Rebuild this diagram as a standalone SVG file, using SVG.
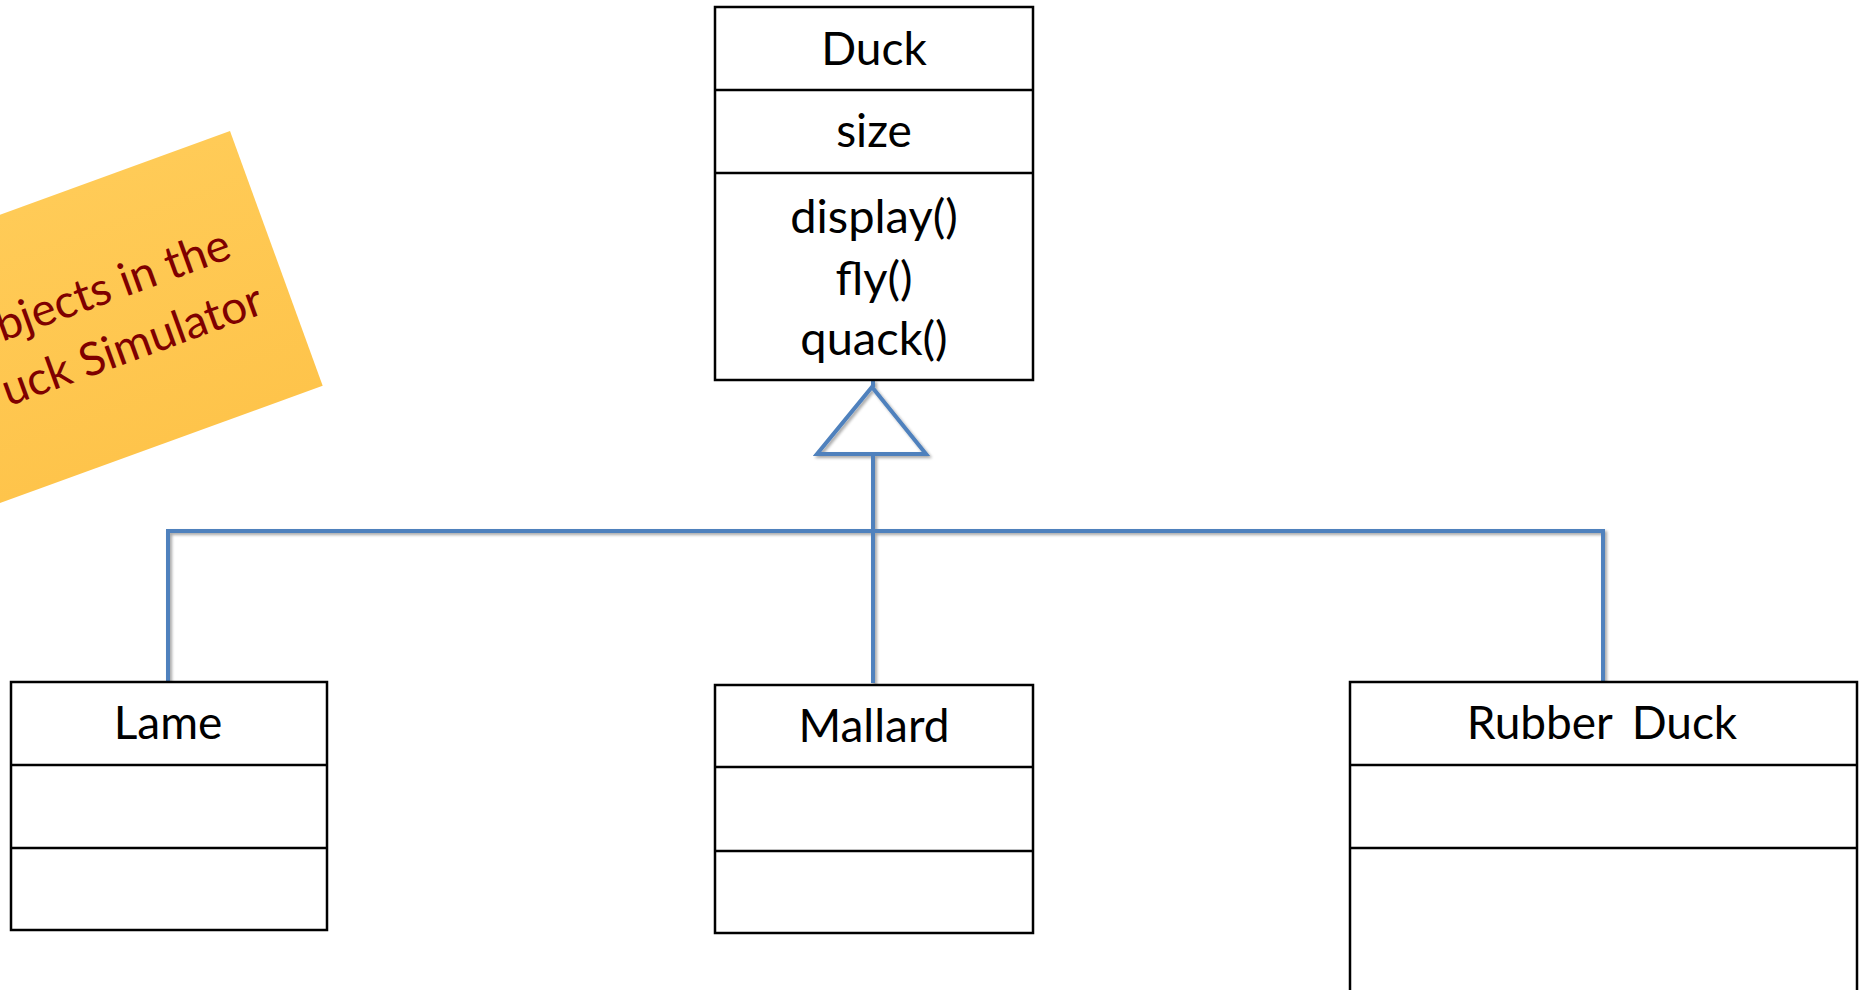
<svg xmlns="http://www.w3.org/2000/svg" width="1867" height="990" viewBox="0 0 1867 990">
  <defs>
    <style>
      .box { fill: #ffffff; stroke: #000000; stroke-width: 2.5; }
      .div { stroke: #000000; stroke-width: 2.5; }
      .lbl { font-family: Lato, "Liberation Sans", sans-serif; font-size: 46px; fill: #000000; text-anchor: middle; }
      .op { font-size: 47px; }
      .wire { fill: none; stroke: #4F81BD; stroke-width: 4; stroke-linejoin: miter; }
      .note-text { font-family: Lato, "Liberation Sans", sans-serif; font-size: 46px; fill: #7F0000; text-anchor: end; }
    </style>
    <linearGradient id="noteFill" x1="0" y1="0" x2="0" y2="1">
      <stop offset="0" stop-color="#FFCB57"/>
      <stop offset="1" stop-color="#FEC44B"/>
    </linearGradient>
    <filter id="lineShadow" x="-10%" y="-10%" width="120%" height="120%">
      <feGaussianBlur in="SourceAlpha" stdDeviation="1.5"/>
      <feOffset dx="2" dy="2" result="off"/>
      <feComponentTransfer><feFuncA type="linear" slope="0.35"/></feComponentTransfer>
      <feMerge><feMergeNode/><feMergeNode in="SourceGraphic"/></feMerge>
    </filter>
  </defs>

  <rect width="1867" height="990" fill="#ffffff"/>

  <!-- sticky note, tilted -->
  <g id="note" transform="translate(230,131) rotate(-20)">
    <rect x="-500" y="0" width="500" height="271" fill="url(#noteFill)"/>
    <text class="note-text" x="-40" y="120">bjects in the</text>
    <text class="note-text" x="-28" y="183">uck Simulator</text>
  </g>

  <!-- inheritance connectors -->
  <g id="connectors" filter="url(#lineShadow)">
    <path class="wire" d="M168,682 V531 H1603 V682"/>
    <path class="wire" d="M873,683 V531"/>
    <path class="wire" d="M873,531 V454"/>
    <path class="wire" d="M873,380 V387"/>
    <polygon class="wire" points="872,387 926,454 817,454" fill="#ffffff"/>
  </g>

  <!-- base class -->
  <g id="duck">
    <rect class="box" x="715" y="7" width="318" height="373"/>
    <line class="div" x1="715" y1="90" x2="1033" y2="90"/>
    <line class="div" x1="715" y1="173" x2="1033" y2="173"/>
    <text class="lbl" x="874" y="65">Duck</text>
    <text class="lbl" x="874" y="147">size</text>
    <text class="lbl op" x="874" y="233">display()</text>
    <text class="lbl op" x="874" y="295">fly()</text>
    <text class="lbl op" x="874" y="355">quack()</text>
  </g>

  <!-- subclasses -->
  <g id="lame">
    <rect class="box" x="11" y="682" width="316" height="248"/>
    <line class="div" x1="11" y1="765" x2="327" y2="765"/>
    <line class="div" x1="11" y1="848" x2="327" y2="848"/>
    <text class="lbl" x="168" y="739">Lame</text>
  </g>

  <g id="mallard">
    <rect class="box" x="715" y="685" width="318" height="248"/>
    <line class="div" x1="715" y1="767" x2="1033" y2="767"/>
    <line class="div" x1="715" y1="851" x2="1033" y2="851"/>
    <text class="lbl" x="874" y="742">Mallard</text>
  </g>

  <g id="rubber-duck">
    <rect class="box" x="1350" y="682" width="507" height="340"/>
    <line class="div" x1="1350" y1="765" x2="1857" y2="765"/>
    <line class="div" x1="1350" y1="848" x2="1857" y2="848"/>
    <text class="lbl" x="1602" y="739" word-spacing="8">Rubber Duck</text>
  </g>
</svg>
